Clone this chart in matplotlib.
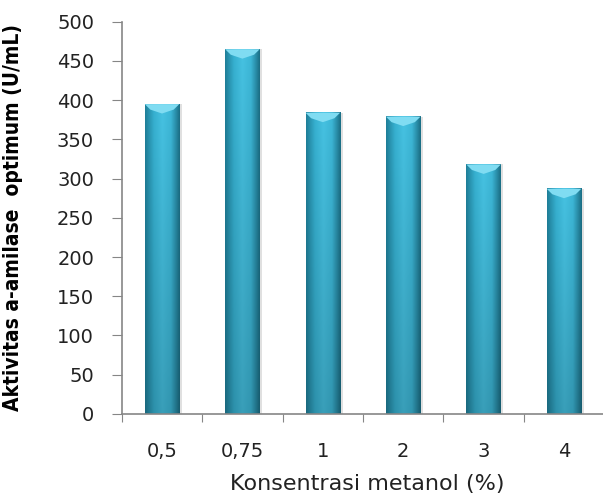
import matplotlib
matplotlib.use("Agg")
import matplotlib.pyplot as plt
import numpy as np
from matplotlib.colors import LinearSegmentedColormap

categories = ["0,5", "0,75", "1", "2", "3", "4"]
values = [395, 465, 384, 379, 318, 287]

fig = plt.figure(figsize=(6.03, 4.95), dpi=100)
ax = fig.add_axes([0.202, 0.164, 0.80, 0.792])

bar_w = 0.43
x = np.arange(len(categories))

# horizontal shading across each bar
shade = LinearSegmentedColormap.from_list(
    "shade", ["#1f7f99", "#36b0d0", "#46c2e2", "#3cb6d6", "#1b6f86"])
grad = np.linspace(0, 1, 64).reshape(1, -1)
vert = np.linspace(1.0, 0.82, 64).reshape(-1, 1)

for xi, v in zip(x, values):
    # soft shadow
    ax.bar(xi + 0.03, v, bar_w, color="#000000", alpha=0.12, zorder=1)
    img = shade(grad)[:, :, :3] * vert[:, :, None]
    ax.imshow(img, extent=[xi - bar_w / 2, xi + bar_w / 2, 0, v],
              aspect="auto", origin="upper", zorder=2, interpolation="bilinear")
    # light chevron cap at the top
    cap_h = 7
    ax.fill([xi - bar_w / 2, xi + bar_w / 2, xi + bar_w / 2 - 0.07, xi, xi - bar_w / 2 + 0.07],
            [v, v, v - cap_h, v - cap_h - 5, v - cap_h], color="#80dcf2", zorder=3, lw=0)

ax.set_xlim(-0.5, 5.5)
ax.set_ylim(0, 500)
ax.set_yticks(range(0, 501, 50))
ax.set_xticks(np.arange(-0.5, 5.6, 1.0))
ax.set_xticklabels([])
ax.set_xticks(x, minor=True)
ax.set_xticklabels(categories, minor=True)
ax.tick_params(axis="x", which="minor", length=0, pad=20, labelsize=14, labelcolor="#222222")
ax.tick_params(axis="x", which="major", length=6, color="#868686", direction="out")
ax.tick_params(axis="y", length=7, color="#868686", labelsize=14, labelcolor="#222222", pad=13)

for s in ["top", "right"]:
    ax.spines[s].set_visible(False)
for s in ["left", "bottom"]:
    ax.spines[s].set_color("#868686")
    ax.spines[s].set_linewidth(1.2)

ax.set_xlabel("Konsentrasi metanol (%)", fontsize=16, color="#222222")
ax.xaxis.set_label_coords(0.508, -0.154)
ax.set_ylabel("Aktivitas a-amilase  optimum (U/mL)", fontsize=15, fontweight="bold",
              family="DejaVu Sans", fontstretch="condensed")
ax.yaxis.set_label_coords(-0.205, 0.5)

fig.savefig("out.png", dpi=100)
